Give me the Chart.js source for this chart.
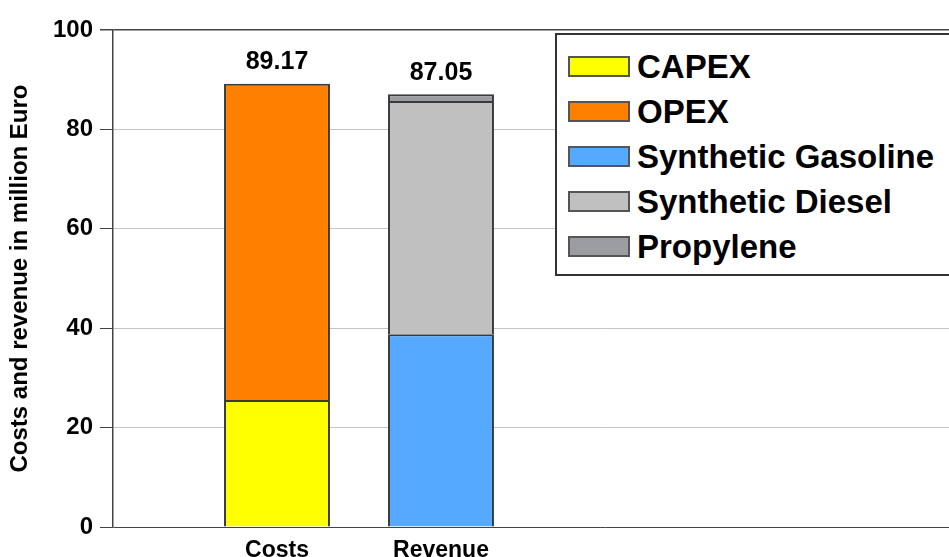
<!DOCTYPE html>
<html>
<head>
<meta charset="utf-8">
<script src="https://cdn.jsdelivr.net/npm/chart.js@4.4.1/dist/chart.umd.min.js"></script>
<style>
    html, body { margin: 0; padding: 0; width: 949px; height: 557px; overflow: hidden; background: #fff; }
    #wrap { position: absolute; left: 0; top: 0; width: 1110px; height: 585px; }
    #legend {
        position: absolute; left: 555px; top: 33px; width: 420px; height: 243px;
        background: #fff; border: 2px solid #333; box-sizing: border-box; padding-top: 9px;
        font-family: "Liberation Sans", Arial, sans-serif; font-weight: bold; font-size: 33px; color: #000;
    }
    .item { height: 45px; display: flex; align-items: center; }
    .swatch { width: 62px; height: 21px; margin-left: 11px; margin-right: 7px; box-sizing: border-box; border: 2px solid #555; }
</style>
</head>
<body>
<div id="wrap">
    <canvas id="costChart" width="1110" height="585"></canvas>
    <div id="legend"></div>
</div>
<script>
const categories = ['', 'Costs', 'Revenue', '', '', '', ''];
const capex = [null, 25.55, null, null, null, null, null];
const opex = [null, 63.62, null, null, null, null, null];
const gasoline = [null, null, 38.8, null, null, null, null];
const diesel = [null, null, 46.9, null, null, null, null];
const propylene = [null, null, 1.35, null, null, null, null];
const yTicks = [0, 20, 40, 60, 80, 100];

const seriesNames = ['CAPEX', 'OPEX', 'Synthetic Gasoline', 'Synthetic Diesel', 'Propylene'];
const seriesColors = ['#ffff00', '#ff8000', '#55a9ff', '#c0c0c0', '#9c9ca3'];
const seriesData = [capex, opex, gasoline, diesel, propylene];

const font = '"Liberation Sans", Arial, sans-serif';

// total value above each stack
const totalsPlugin = {
    id: 'totals',
    afterDatasetsDraw(chart) {
        let ctx = chart.ctx;
        ctx.save();
        ctx.font = 'bold 25px ' + font;
        ctx.fillStyle = '#000';
        ctx.textAlign = 'center';
        ctx.textBaseline = 'bottom';
        for (let i = 0; i < categories.length; i++) {
            let total = 0;
            let top = null;
            chart.data.datasets.forEach(function (ds, d) {
                if (ds.data[i] != null) {
                    total += ds.data[i];
                    top = chart.getDatasetMeta(d).data[i];
                }
            });
            if (top) {
                ctx.fillText(total.toFixed(2), top.x, top.y - 9);
            }
        }
        ctx.restore();
    }
};

let datasets = [];
for (let i = 0; i < seriesNames.length; i++) {
    datasets.push({
        label: seriesNames[i],
        data: seriesData[i],
        backgroundColor: seriesColors[i],
        borderColor: '#3a3a3a',
        borderWidth: 2,
        categoryPercentage: 1,
        barPercentage: 0.646
    });
}

let ctx = document.getElementById('costChart').getContext('2d');
let costChart = new Chart(ctx, {
    type: 'bar',
    data: { labels: categories, datasets: datasets },
    options: {
        responsive: false,
        animation: false,
        layout: { padding: { top: 30, left: 0, right: 13, bottom: 0 } },
        plugins: { legend: { display: false }, tooltip: { enabled: false } },
        scales: {
            x: {
                stacked: true,
                offset: false,
                grid: { display: false, drawTicks: false },
                border: { display: false },
                ticks: { color: '#000', font: { family: font, size: 23, weight: 'bold' }, padding: 10, maxRotation: 0, autoSkip: false },
                afterFit: function (scale) { scale.height = 58; }
            },
            y: {
                stacked: true,
                min: 0,
                max: 100,
                afterBuildTicks: function (scale) { scale.ticks = yTicks.map(v => ({ value: v })); },
                grid: {
                    color: c => (c.tick && (c.tick.value === 100 || c.tick.value === 0)) ? '#444' : '#c4c4c4',
                    lineWidth: c => (c.tick && c.tick.value === 100) ? 1.5 : 1,
                    tickLength: 13,
                    tickColor: '#444'
                },
                border: { color: '#444', width: 1.5 },
                ticks: { color: '#000', font: { family: font, size: 24, weight: 'bold' }, padding: 7 },
                title: {
                    display: true,
                    text: 'Costs and revenue in million Euro',
                    color: '#000',
                    font: { family: font, size: 24, weight: 'bold' },
                    padding: { top: 6, bottom: 0 }
                },
                afterFit: function (scale) { scale.width = 113; }
            }
        }
    },
    plugins: [totalsPlugin]
});

// legend box drawn as html from the datasets
let legend = document.getElementById('legend');
costChart.data.datasets.forEach(function (ds) {
    let item = document.createElement('div');
    item.className = 'item';
    let sw = document.createElement('span');
    sw.className = 'swatch';
    sw.style.background = ds.backgroundColor;
    let txt = document.createElement('span');
    txt.textContent = ds.label;
    item.appendChild(sw);
    item.appendChild(txt);
    legend.appendChild(item);
});
</script>
</body>
</html>
